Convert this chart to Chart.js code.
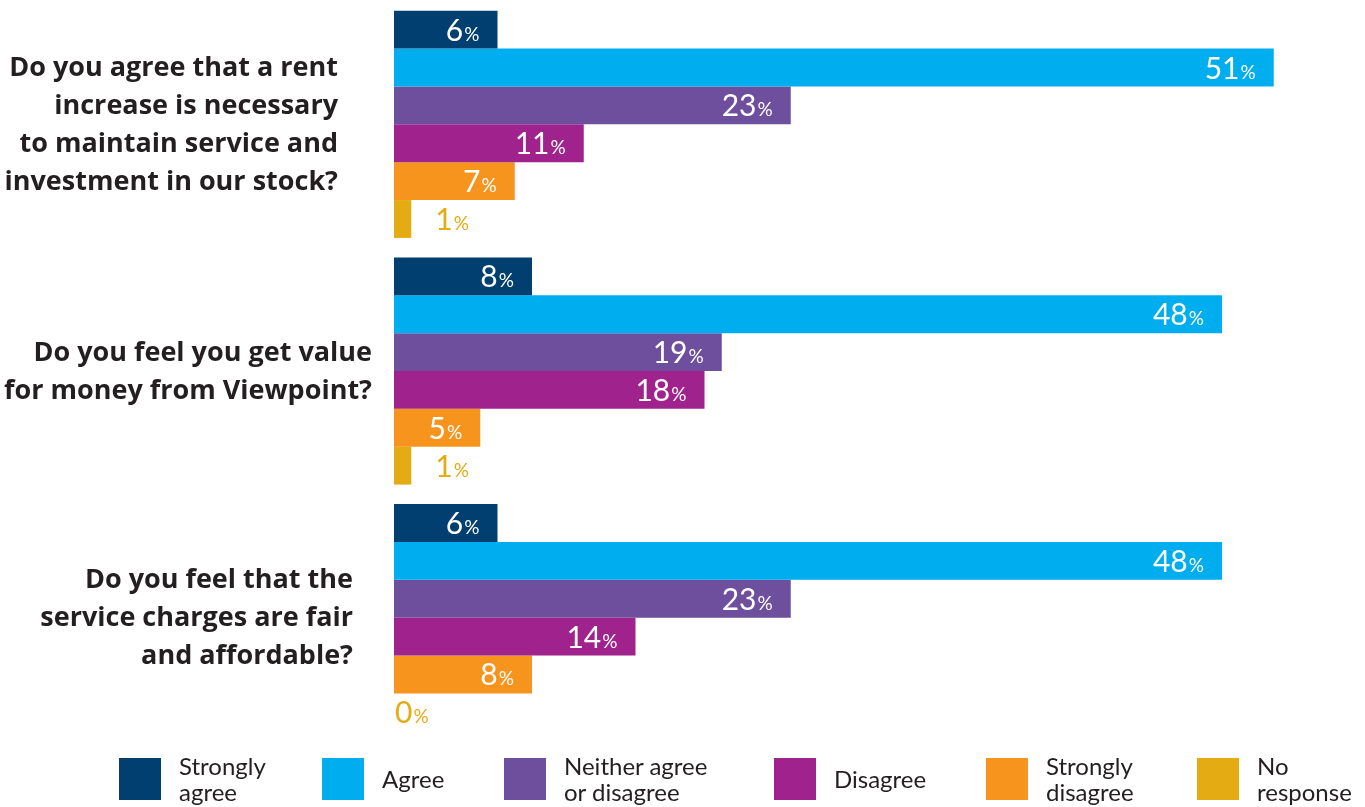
<!DOCTYPE html>
<html>
<head>
<meta charset="utf-8">
<script src="https://cdn.jsdelivr.net/npm/chart.js@4"></script>
<style>
  html, body { margin: 0; padding: 0; background: #fff; }
  .wrap { position: relative; width: 1365px; height: 807px; overflow: hidden; }
  #legend {
    position: absolute; left: 0; top: 751px; width: 1365px; height: 55px;
    font-family: Lato, sans-serif; font-size: 24px; line-height: 26px; color: #231f20;
  }
  #legend .item { position: absolute; top: 0; height: 55px; display: flex; align-items: center; }
  #legend .box { width: 42px; height: 42px; margin-right: 18px; flex: none; }
</style>
</head>
<body>
<div class="wrap">
  <canvas id="surveyChart" width="1365" height="807"></canvas>
  <div id="legend"></div>
</div>
<script>
// Questions (y categories), split on the original line breaks
const questions = [
  ['Do you agree that a rent', 'increase is necessary', 'to maintain service and', 'investment in our stock?'],
  ['Do you feel you get value', 'for money from Viewpoint?'],
  ['Do you feel that the', 'service charges are fair', 'and affordable?']
];

const seriesNames = ['Strongly agree', 'Agree', 'Neither agree or disagree', 'Disagree', 'Strongly disagree', 'No response'];
const legendLines = [['Strongly', 'agree'], ['Agree'], ['Neither agree', 'or disagree'], ['Disagree'], ['Strongly', 'disagree'], ['No', 'response']];

// Percentages per question
const stronglyAgree    = [6, 8, 6];
const agree            = [51, 48, 48];
const neitherAgree     = [23, 19, 23];
const disagree         = [11, 18, 14];
const stronglyDisagree = [7, 5, 8];
const noResponse       = [1, 1, 0];

const seriesColors = ['#003f6f', '#00aeef', '#6e4f9d', '#a0228c', '#f7941e', '#e4ab13'];

const FONT = 'Lato, sans-serif';

// question labels, right-aligned at slightly different edges like the original
const questionRight = [338, 372, 353];
const questionLabels = {
  id: 'questionLabels',
  afterDraw(chart) {
    const ctx = chart.ctx;
    const yScale = chart.scales.y;
    ctx.save();
    ctx.font = 'bold 27px "Open Sans", sans-serif';
    ctx.fillStyle = '#231f20';
    ctx.textAlign = 'right';
    ctx.textBaseline = 'middle';
    questions.forEach((lines, i) => {
      const cy = yScale.getPixelForValue(i);
      const lh = 38;
      const top = cy - (lines.length - 1) * lh / 2;
      lines.forEach((line, j) => ctx.fillText(line, questionRight[i], top + j * lh + 1));
    });
    ctx.restore();
  }
};

// value labels: big number + small %, inside bar end, or outside for tiny bars
const valueLabels = {
  id: 'valueLabels',
  afterDatasetsDraw(chart) {
    const ctx = chart.ctx;
    ctx.save();
    ctx.textBaseline = 'alphabetic';
    chart.data.datasets.forEach((ds, di) => {
      const meta = chart.getDatasetMeta(di);
      meta.data.forEach((bar, i) => {
        const v = ds.data[i];
        const num = String(v);
        ctx.font = '30px ' + FONT;
        const wNum = ctx.measureText(num).width;
        ctx.font = '19px ' + FONT;
        const wPct = ctx.measureText('%').width;
        const baseY = bar.y + 11;
        let x, color;
        if (v >= 3) {
          x = bar.x - 19 - wPct - wNum;
          color = '#ffffff';
        } else {
          x = bar.x + (v > 0 ? 24 : 1);
          color = seriesColors[di];
        }
        ctx.fillStyle = color;
        ctx.textAlign = 'left';
        ctx.font = '30px ' + FONT;
        ctx.fillText(num, x, baseY);
        ctx.font = '19px ' + FONT;
        ctx.fillText('%', x + wNum + 1, baseY);
      });
    });
    ctx.restore();
  }
};

const seriesData = [stronglyAgree, agree, neitherAgree, disagree, stronglyDisagree, noResponse];

const ctx = document.getElementById('surveyChart').getContext('2d');
const surveyChart = new Chart(ctx, {
  type: 'bar',
  data: {
    labels: questions.map(q => q.join(' ')),
    datasets: seriesNames.map((name, i) => ({
      label: name,
      data: seriesData[i],
      backgroundColor: seriesColors[i],
      borderWidth: 0,
      categoryPercentage: 0.921,
      barPercentage: 1
    }))
  },
  options: {
    indexAxis: 'y',
    responsive: false,
    animation: false,
    layout: {
      padding: { left: 394, right: 5, top: 1, bottom: 66 }
    },
    plugins: {
      legend: { display: false },
      tooltip: { enabled: false }
    },
    scales: {
      x: { display: false, min: 0, max: 56 },
      y: { display: false }
    }
  },
  plugins: [questionLabels, valueLabels]
});

// HTML legend with two-line labels, placed where the original has them
const legendLeft = [119, 322, 504, 774, 986, 1197];
const legendEl = document.getElementById('legend');
seriesNames.forEach((name, i) => {
  const item = document.createElement('div');
  item.className = 'item';
  item.style.left = legendLeft[i] + 'px';
  const box = document.createElement('div');
  box.className = 'box';
  box.style.background = seriesColors[i];
  const txt = document.createElement('div');
  txt.innerHTML = legendLines[i].join('<br>');
  item.appendChild(box);
  item.appendChild(txt);
  legendEl.appendChild(item);
});
</script>
</body>
</html>
